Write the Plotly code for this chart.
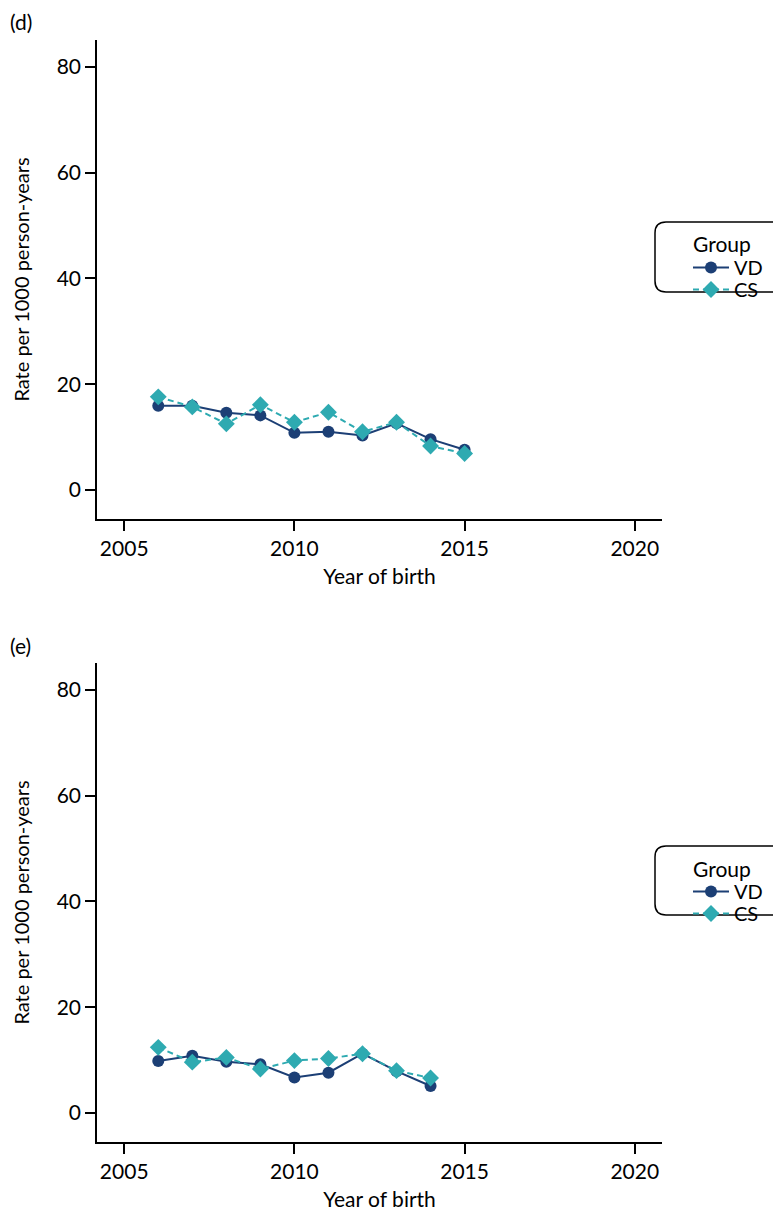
import plotly.graph_objects as go

years_d = [2006, 2007, 2008, 2009, 2010, 2011, 2012, 2013, 2014, 2015]
vd_d = [15.9, 15.9, 14.6, 14.1, 10.8, 11.0, 10.3, 12.6, 9.6, 7.6]
cs_d = [17.6, 15.7, 12.5, 16.1, 12.8, 14.7, 11.0, 12.8, 8.3, 6.9]

years_e = [2006, 2007, 2008, 2009, 2010, 2011, 2012, 2013, 2014]
vd_e = [9.8, 10.8, 9.7, 9.2, 6.7, 7.6, 11.2, 7.9, 5.1]
cs_e = [12.4, 9.6, 10.5, 8.3, 9.9, 10.3, 11.2, 8.0, 6.6]

x_ticks = [2005, 2010, 2015, 2020]
y_ticks = [0, 20, 40, 60, 80]
panel_labels = ["(d)", "(e)"]
legend_title = "Group"

W, H = 773, 1211
VD_COLOR = "#1c3f75"
CS_COLOR = "#2eaab1"
FONT = "Lato"

fig = go.Figure()

def add_panel(years, vd, cs, xa, ya, leg_vd, leg_cs):
    fig.add_trace(go.Scatter(x=years, y=vd, name="VD", mode="lines+markers",
                             line=dict(color=VD_COLOR, width=2),
                             marker=dict(symbol="circle", size=12, color=VD_COLOR),
                             xaxis=xa, yaxis=ya, legend=leg_vd))
    fig.add_trace(go.Scatter(x=years, y=cs, name="CS", mode="lines+markers",
                             line=dict(color=CS_COLOR, width=2, dash="6px,4px"),
                             marker=dict(symbol="diamond", size=13, color=CS_COLOR),
                             xaxis=xa, yaxis=ya, legend=leg_cs))

add_panel(years_d, vd_d, cs_d, "x", "y", "legend", "legend3")
add_panel(years_e, vd_e, cs_e, "x2", "y2", "legend2", "legend4")

def px_x(p):
    return p / W

def px_y(p):
    return 1 - p / H

axis_common = dict(showline=True, linecolor="black", linewidth=1.5, ticks="outside",
                   ticklen=10, tickwidth=1.5, tickcolor="black", showgrid=False,
                   zeroline=False, tickfont=dict(size=21, color="black", family=FONT),
                   mirror=False)

xd = [px_x(97), px_x(662)]
dom_d = [px_y(519), px_y(40)]
dom_e = [px_y(1142), px_y(663)]

leg_base = dict(xanchor="left", yanchor="top", font=dict(size=20), itemwidth=36,
                bgcolor="rgba(0,0,0,0)", borderwidth=0, tracegroupgap=0)

LX = px_x(688)

fig.update_layout(
    width=W, height=H,
    margin=dict(l=0, r=0, t=0, b=0),
    paper_bgcolor="white", plot_bgcolor="white",
    font=dict(family=FONT, color="black", size=21),
    showlegend=True,
    xaxis=dict(domain=xd, range=[2004.2, 2020.8], tickvals=x_ticks, anchor="y",
               title=dict(text="Year of birth", standoff=10, font=dict(size=21)), **axis_common),
    yaxis=dict(domain=dom_d, range=[-5.5, 85.1], tickvals=y_ticks, anchor="x",
               title=dict(text="Rate per 1000 person-years", standoff=22, font=dict(size=20)), **axis_common),
    xaxis2=dict(domain=xd, range=[2004.2, 2020.8], tickvals=x_ticks, anchor="y2",
                title=dict(text="Year of birth", standoff=10, font=dict(size=21)), **axis_common),
    yaxis2=dict(domain=dom_e, range=[-5.5, 85.1], tickvals=y_ticks, anchor="x2",
                title=dict(text="Rate per 1000 person-years", standoff=22, font=dict(size=20)), **axis_common),
    legend=dict(x=LX, y=px_y(248), **leg_base),
    legend3=dict(x=LX, y=px_y(270), **leg_base),
    legend2=dict(x=LX, y=px_y(872), **leg_base),
    legend4=dict(x=LX, y=px_y(894), **leg_base),
)

def rounded_box(left, top, bottom, right=790, r=11):
    x0, x1 = px_x(left), px_x(right)
    y0, y1 = px_y(top), px_y(bottom)
    rx, ry = r / W, r / H
    path = (f"M {x0+rx},{y0} L {x1-rx},{y0} Q {x1},{y0} {x1},{y0-ry} "
            f"L {x1},{y1+ry} Q {x1},{y1} {x1-rx},{y1} L {x0+rx},{y1} "
            f"Q {x0},{y1} {x0},{y1+ry} L {x0},{y0-ry} Q {x0},{y0} {x0+rx},{y0} Z")
    return dict(type="path", xref="paper", yref="paper", path=path,
                line=dict(color="black", width=1.5), fillcolor="rgba(0,0,0,0)", layer="above")

fig.add_shape(rounded_box(655, 222, 292, right=790))
fig.add_shape(rounded_box(655, 846, 915, right=790))

for ypx in [244, 868]:
    fig.add_annotation(text=legend_title, x=px_x(691), y=px_y(ypx), xref="paper", yref="paper",
                       xanchor="left", yanchor="middle", showarrow=False,
                       font=dict(size=21, color="black", family=FONT))

for lab, ypx in zip(panel_labels, [22, 645]):
    fig.add_annotation(text=lab, x=px_x(8), y=px_y(ypx), xref="paper", yref="paper",
                       xanchor="left", yanchor="middle", showarrow=False,
                       font=dict(size=21, color="black", family=FONT))

fig.write_html("out.html", config={"displayModeBar": False},
               post_script="document.body.style.margin='0';document.body.style.overflow='hidden';")
